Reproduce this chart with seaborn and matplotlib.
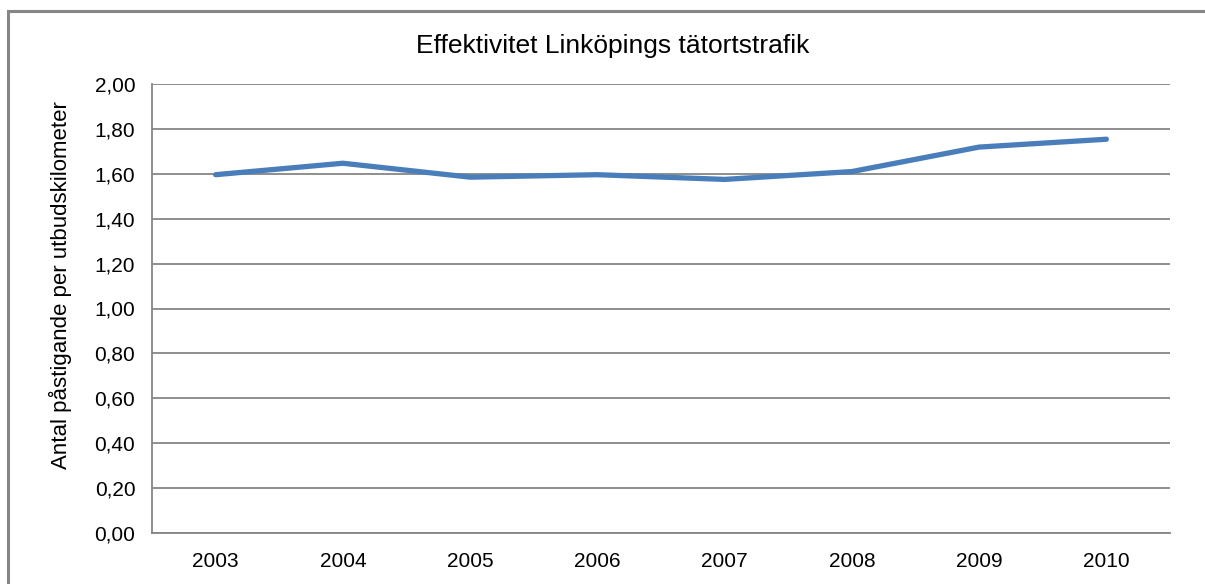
import matplotlib
matplotlib.use("Agg")
import matplotlib.pyplot as plt
import seaborn as sns
import pandas as pd
from matplotlib.patches import Rectangle

years = ["2003", "2004", "2005", "2006", "2007", "2008", "2009", "2010"]
values = [1.596, 1.647, 1.585, 1.596, 1.575, 1.610, 1.719, 1.754]
ytick_values = [0.0, 0.2, 0.4, 0.6, 0.8, 1.0, 1.2, 1.4, 1.6, 1.8, 2.0]

title = "Effektivitet Linköpings tätortstrafik"
ylabel = "Antal påstigande per utbudskilometer"

sns.set_theme(style="white")
plt.rcParams["font.family"] = ["Liberation Sans", "DejaVu Sans"]
plt.rcParams["text.color"] = "black"

grid_color = "#868686"
line_color = "#4A7EBB"

df = pd.DataFrame({"year": years, "value": values})

fig = plt.figure(figsize=(12.05, 5.84), dpi=100)
ax = fig.add_axes([152 / 1205, 51 / 584, (1170 - 152) / 1205, (533 - 84) / 584])

# chart border
fig.patches.append(Rectangle((8 / 1205, -0.1), 1.2, (584 - 11) / 584 + 0.1,
                             transform=fig.transFigure, fill=False,
                             edgecolor=grid_color, linewidth=2.2, zorder=0))

sns.lineplot(data=df, x="year", y="value", ax=ax, color=line_color,
             linewidth=3.8, sort=False, solid_capstyle="round", zorder=3)

ax.set_xlim(-0.5, len(years) - 0.5)
ax.set_ylim(0, 2.0)
ax.set_yticks(ytick_values)
ax.set_yticklabels([f"{v:.2f}".replace(".", ",") for v in ytick_values])
ax.yaxis.grid(True, color=grid_color, linewidth=1.3)
ax.xaxis.grid(False)
ax.set_axisbelow(True)

for side in ["top", "right"]:
    ax.spines[side].set_visible(False)
for side in ["left", "bottom"]:
    ax.spines[side].set_color(grid_color)
    ax.spines[side].set_linewidth(1.3)

ax.tick_params(axis="both", length=0, labelsize=15, colors="black")
ax.tick_params(axis="y", pad=12)
ax.tick_params(axis="x", pad=13.5)
ax.set_xlabel("")
ax.set_ylabel(ylabel, fontsize=16, color="black")
ax.yaxis.set_label_coords(-0.0784, 0.552)

# chart title, centred on the whole chart area
fig.text(613 / 1205, 1 - 46 / 584, title, fontsize=19, color="black",
         ha="center", va="center")

fig.savefig("out.png", dpi=100)
